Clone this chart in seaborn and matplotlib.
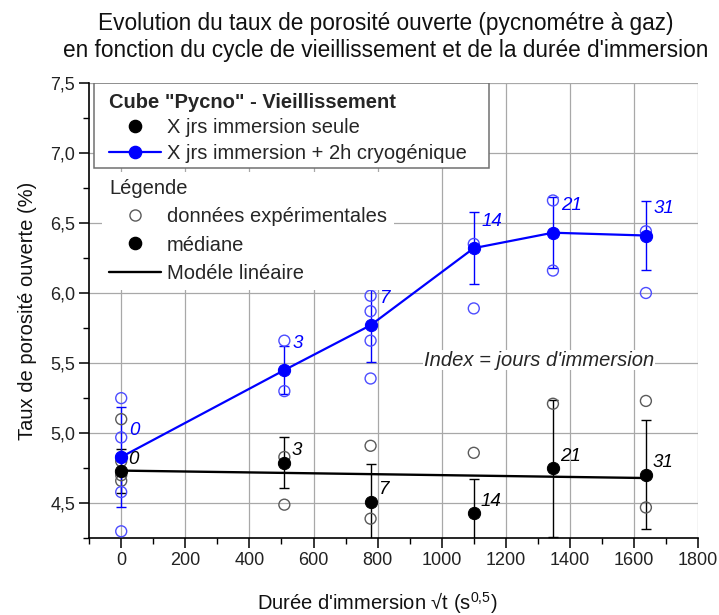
import matplotlib
matplotlib.use("Agg")
import matplotlib.pyplot as plt
import matplotlib.ticker as ticker
from matplotlib.lines import Line2D
from matplotlib.patches import Rectangle
import seaborn as sns

# Jours d'immersion et racine du temps (s^0.5)
jours = [0, 3, 7, 14, 21, 31]
racine_t = [0, 509, 778, 1100, 1347, 1637]

# Immersion seule : médianes et écarts
seule_med = [4.73, 4.79, 4.51, 4.43, 4.75, 4.705]
seule_err = [0.16, 0.18, 0.27, 0.245, 0.49, 0.39]
# données expérimentales visibles
seule_exp_x = [0, 0, 0, 0, 509, 509, 778, 778, 1100, 1347, 1637, 1637]
seule_exp_y = [5.10, 4.80, 4.70, 4.66, 4.83, 4.49, 4.91, 4.39, 4.86, 5.21, 5.23, 4.47]

# Immersion + 2h cryogénique
cryo_med = [4.83, 5.45, 5.77, 6.32, 6.43, 6.41]
cryo_err = [0.36, 0.17, 0.26, 0.255, 0.255, 0.245]
cryo_exp_x = [0, 0, 0, 0, 0, 509, 509, 778, 778, 778, 778, 1100, 1100, 1347, 1347, 1637, 1637]
cryo_exp_y = [5.25, 4.97, 4.83, 4.58, 4.30, 5.66, 5.30, 5.98, 5.87, 5.66, 5.39, 6.35, 5.89, 6.66, 6.16, 6.44, 6.00]

# Modèle linéaire (extrémités)
modele_x = [0, 1637]
modele_y = [4.733, 4.68]

sns.set_theme(style="whitegrid")
plt.rcParams['font.family'] = ['Liberation Sans', 'DejaVu Sans']
plt.rcParams['mathtext.fontset'] = 'custom'
plt.rcParams['mathtext.rm'] = 'Liberation Sans'
plt.rcParams['mathtext.it'] = 'Liberation Sans:italic'

BLEU = '#0000ff'
BLEU_CLAIR = '#4d4dff'
GRIS = '#5a5a5a'

fig = plt.figure(figsize=(7.19, 6.15), dpi=100)
ax = fig.add_axes([0.124, 0.1247, 0.847, 0.7408])
ax.set_facecolor('white')

# Erreurs
ax.errorbar(racine_t, seule_med, yerr=seule_err, fmt='none', ecolor='black',
            elinewidth=1, capsize=3.6, capthick=1, zorder=3)
ax.errorbar(racine_t, cryo_med, yerr=cryo_err, fmt='none', ecolor=BLEU,
            elinewidth=1, capsize=3.6, capthick=1, zorder=3)

# Données expérimentales
sns.scatterplot(x=seule_exp_x, y=seule_exp_y, ax=ax, marker='o', s=62,
                color=GRIS, facecolor='none', edgecolor=GRIS, linewidth=1, zorder=4)
sns.scatterplot(x=cryo_exp_x, y=cryo_exp_y, ax=ax, marker='o', s=62,
                color=BLEU_CLAIR, facecolor='none', edgecolor=BLEU_CLAIR, linewidth=1, zorder=4)

# Modèle linéaire
sns.lineplot(x=modele_x, y=modele_y, ax=ax, color='black', linewidth=1.7, zorder=5)

# Médianes
sns.lineplot(x=racine_t, y=cryo_med, ax=ax, color=BLEU, linewidth=1.6, marker='o',
             markersize=8.8, markeredgecolor=BLEU, zorder=6)
sns.scatterplot(x=racine_t, y=seule_med, ax=ax, color='black', s=78,
                edgecolor='black', zorder=6)

# Index des jours
for xx, yy, j in zip(racine_t, cryo_med, jours):
    ax.annotate(str(j), (xx, yy), xytext=(8, 27), textcoords='offset pixels',
                ha='left', va='center', style='italic', color=BLEU, fontsize=13.5, zorder=7)
for xx, yy, j in zip(racine_t, seule_med, jours):
    ax.annotate(str(j), (xx, yy), xytext=(7, 12), textcoords='offset pixels',
                ha='left', va='center', style='italic', color='black', fontsize=13.5, zorder=7)

ax.text(1304, 5.52, "Index = jours d'immersion", style='italic', fontsize=14.5,
        ha='center', va='center', zorder=2,
        bbox=dict(facecolor='white', edgecolor='none', pad=0.5))

# Axes
ax.set_xlim(-100, 1800)
ax.set_ylim(4.25, 7.5)
ax.xaxis.set_major_locator(ticker.MultipleLocator(200))
ax.xaxis.set_minor_locator(ticker.MultipleLocator(100))
ax.yaxis.set_major_locator(ticker.MultipleLocator(0.5))
ax.yaxis.set_minor_locator(ticker.MultipleLocator(0.25))
ax.yaxis.set_major_formatter(ticker.FuncFormatter(lambda v, p: f"{v:.1f}".replace('.', ',')))
ax.grid(True, which='major', color='#a8a8a8', linewidth=0.9)
ax.grid(False, which='minor')
for s in ['top', 'right']:
    ax.spines[s].set_visible(False)
for s in ['left', 'bottom']:
    ax.spines[s].set_color('black')
    ax.spines[s].set_linewidth(1.2)
ax.tick_params(which='major', direction='out', length=7, width=1.1, color='black',
               labelsize=13, labelcolor='#222222', pad=3, left=True, bottom=True)
ax.tick_params(which='minor', direction='out', length=4, width=1, color='black',
               left=True, bottom=True)

ax.set_xlabel(r"Durée d'immersion √t (s$^{\mathrm{0{,}5}}$)", fontsize=14.5, color='#111111')
ax.set_ylabel("Taux de porosité ouverte (%)", fontsize=14.5, color='#111111')
ax.xaxis.set_label_coords(0.473, -0.114)
ax.yaxis.set_label_coords(-0.085, 0.5)

fig.text(0.537, 0.9805, "Evolution du taux de porosité ouverte (pycnométre à gaz)\n"
         "en fonction du cycle de vieillissement et de la durée d'immersion",
         ha='center', va='top', fontsize=16.3, linespacing=1.22, color='#111111')

# Légende 1 (cadre dessiné à part)
ax.add_patch(Rectangle((0.0082, 0.8128), 0.6486, 0.1865, transform=ax.transAxes,
                       facecolor='white', edgecolor='#707070', linewidth=1.1, zorder=8))
h1 = [Line2D([], [], marker='o', color='black', linestyle='none', markersize=8.8),
      Line2D([], [], marker='o', color=BLEU, linewidth=1.6, markersize=8.8)]
leg1 = ax.legend(h1, ["X jrs immersion seule", "X jrs immersion + 2h cryogénique"],
                 title='Cube "Pycno" - Vieillissement', loc='upper left',
                 bbox_to_anchor=(0.0213, 0.9934), borderaxespad=0, fontsize=14.5,
                 title_fontproperties={'weight': 'bold', 'size': 14.5},
                 alignment='left', frameon=False,
                 handlelength=2.57, handletextpad=0.3, labelspacing=0.325, borderpad=0.35)
leg1.set_zorder(10)
ax.add_artist(leg1)

# Légende 2
h2 = [Line2D([], [], marker='o', color=GRIS, markerfacecolor='none', linestyle='none', markersize=8),
      Line2D([], [], marker='o', color='black', linestyle='none', markersize=8.8),
      Line2D([], [], color='black', linewidth=1.7)]
leg2 = ax.legend(h2, ["données expérimentales", "médiane", "Modéle linéaire"],
                 title='Légende', loc='upper left', bbox_to_anchor=(0.0213, 0.8033),
                 borderaxespad=0, fontsize=14.5, title_fontsize=14.5, alignment='left',
                 fancybox=False, framealpha=1, edgecolor='none',
                 handlelength=2.57, handletextpad=0.3, labelspacing=0.45, borderpad=0.35)
leg2.set_zorder(9)

fig.savefig("out.png", dpi=100)
